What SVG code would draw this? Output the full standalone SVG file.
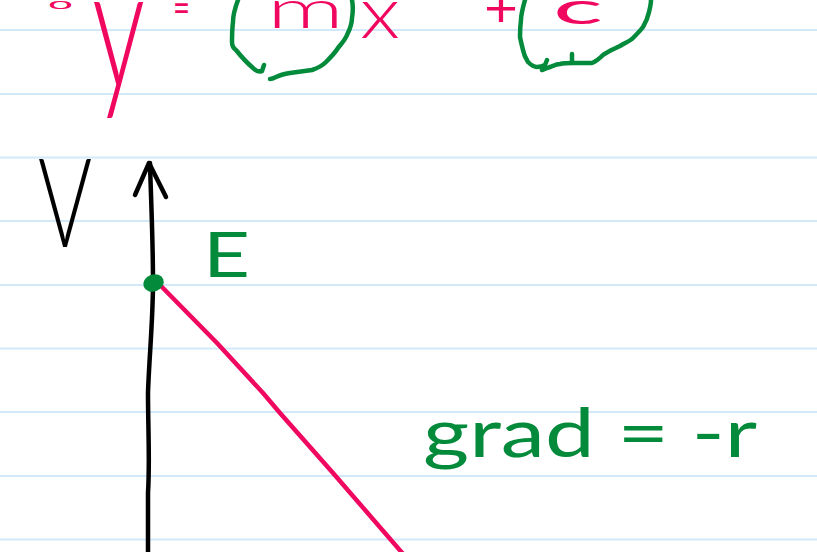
<svg xmlns="http://www.w3.org/2000/svg" width="817" height="552" viewBox="0 0 817 552">
<style>
.rule{stroke:#d2e9fa;stroke-width:2.2}
.ink{fill:none;stroke-linecap:round;stroke-linejoin:round;stroke-width:4.5}
.pk{stroke:#f0075f}
.gr{stroke:#038a3b}
.bk{stroke:#000}
.hw{font-family:Lato,"Open Sans","DejaVu Sans",sans-serif;font-weight:400}
.lt{font-weight:300}
.tpk{fill:#f0075f}
.tgr{fill:#038a3b}
.tbk{fill:#000}
</style>
<rect width="817" height="552" fill="#fff"/>
<g id="ruled-lines">
<line class="rule" x1="0" y1="30" x2="817" y2="30"/>
<line class="rule" x1="0" y1="94" x2="817" y2="94"/>
<line class="rule" x1="0" y1="157.5" x2="817" y2="157.5"/>
<line class="rule" x1="0" y1="221" x2="817" y2="221"/>
<line class="rule" x1="0" y1="285" x2="817" y2="285"/>
<line class="rule" x1="0" y1="348.5" x2="817" y2="348.5"/>
<line class="rule" x1="0" y1="412" x2="817" y2="412"/>
<line class="rule" x1="0" y1="476" x2="817" y2="476"/>
<line class="rule" x1="0" y1="539.5" x2="817" y2="539.5"/>
</g>
<g id="equation">
<text class="hw tpk" x="48" y="9" font-size="16" textLength="25" lengthAdjust="spacingAndGlyphs">o</text>
<text class="hw lt tpk" transform="translate(92,88) scale(1,1.64)" font-size="105" textLength="53" lengthAdjust="spacingAndGlyphs">y</text>
<text class="hw tpk" x="173" y="22" font-size="40" textLength="17" lengthAdjust="spacingAndGlyphs">=</text>
<text class="hw lt tpk" x="267" y="28" font-size="54" textLength="77" lengthAdjust="spacingAndGlyphs">m</text>
<text class="hw lt tpk" x="360" y="38" font-size="72" textLength="40" lengthAdjust="spacingAndGlyphs">x</text>
<text class="hw tpk" x="484" y="27" font-size="52" textLength="34" lengthAdjust="spacingAndGlyphs">+</text>
<text class="hw tpk" x="553" y="24" font-size="45" textLength="50" lengthAdjust="spacingAndGlyphs">c</text>
<path class="ink gr" d="M238,0 C235,8 233,15 233,22 C232,30 232,38 232,42 C232,46 233,48 236,50 C240,55 246,62 253,68 C256,71 259,72 262,71 L264,65"/>
<path class="ink gr" d="M270,79 C272,79 274,78 276,77 C280,75 284,74 290,73 C297,72 305,71 312,70 C318,68 322,66 326,62 C331,57 335,53 338,48 C342,43 345,40 347,35 C350,29 352,23 352,18 C353,12 353,5 352,0"/>
<path class="ink gr" d="M525,0 C523,7 521,14 521,20 C520,27 520,32 520,37 C521,42 522,46 523,50 C524,55 526,59 528,62 C531,65 534,67 537,67 C541,67 543,66 545,65 L547,60"/>
<path class="ink gr" d="M542,70 C545,69 547,68 550,67 C553,66 556,64 560,64 C564,63 568,63 573,63 C580,63 586,63 592,63 C597,61 600,58 603,55 C608,51 614,49 620,46 C625,43 630,41 633,38 C637,34 640,31 643,27 C646,22 648,17 649,12 C650,8 651,4 651,0"/>
<path class="ink gr" d="M572,62 L572,54"/>
</g>
<g id="axis">
<path class="ink bk" d="M150,163 C151,200 153,240 153,282 C153,320 149,360 148,393 C148,430 150,460 148,493 L148,552"/>
<path class="ink bk" d="M135,195 L149,163 L166,197"/>
</g>
<g id="label-V">
<text class="hw lt tbk" x="38" y="247" font-size="125" textLength="54" lengthAdjust="spacingAndGlyphs">V</text>
</g>
<g id="line">
<path class="ink pk" d="M160,285 L217,343 L263,393 L280,413 L333,473 L404,555"/>
</g>
<g id="point-E">
<ellipse cx="153.5" cy="283" rx="10.5" ry="8.5" transform="rotate(-20 153.5 283)" fill="#038a3b"/>
<text class="hw tgr" x="203" y="277" font-size="61" textLength="47" lengthAdjust="spacingAndGlyphs">E</text>
</g>
<g id="label-grad">
<text class="hw tgr" x="423" y="457" font-size="67" textLength="334" lengthAdjust="spacingAndGlyphs">grad = -r</text>
</g>
</svg>
